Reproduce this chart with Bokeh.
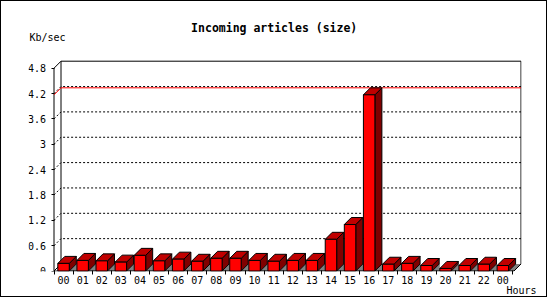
from bokeh.plotting import figure
from bokeh.models import Range1d, FixedTicker, LinearAxis, Label
from bokeh.embed import file_html
from bokeh.resources import INLINE

# ---- data ----
hours = ["00", "01", "02", "03", "04", "05", "06", "07", "08", "09", "10", "11",
         "12", "13", "14", "15", "16", "17", "18", "19", "20", "21", "22", "00"]
kbps = [0.18, 0.25, 0.24, 0.21, 0.37, 0.24, 0.28, 0.23, 0.30, 0.30, 0.25, 0.23,
        0.25, 0.25, 0.75, 1.10, 4.17, 0.16, 0.18, 0.13, 0.06, 0.13, 0.16, 0.13]
y_ticks = [0, 0.6, 1.2, 1.8, 2.4, 3, 3.6, 4.2, 4.8]
y_tick_labels = ["0", "0.6", "1.2", "1.8", "2.4", "3", "3.6", "4.2", "4.8"]
title_text = "Incoming articles (size)"
y_title = "Kb/sec"
x_title = "Hours"

# ---- geometry (page pixels of the reference) ----
PW, PH = 547, 297          # canvas size (plus 1px css border each side)
OFF = 1                    # css border width
X0, Y0 = 53.5, 270.5       # page pixel of data origin
W, S = 19.1, 42.25         # px per category, px per unit
FL, FR, FT, FB = 28, 521, 15, 271   # frame edges in page pixels

def dx_(px):
    return (px - X0) / W
def dy_(py):
    return (Y0 - py) / S

DX, DY = 7.0 / W, 7.0 / S  # 3d depth in data units
A, BW = 0.2, 0.6           # bar offset and width within category
N = len(kbps)
XEND = dx_(513.5)
YTOP = y_ticks[-1]

p = figure(width=PW, height=PH, output_backend="svg", toolbar_location=None,
           title=None,
           x_range=Range1d(dx_(FL), dx_(FR)), y_range=Range1d(dy_(FB), dy_(FT)),
           x_axis_type=None, y_axis_type=None,
           min_border_left=FL - OFF, min_border_right=PW - (FR - OFF),
           min_border_top=FT - OFF, min_border_bottom=PH - (FB - OFF))
p.outline_line_color = None
p.background_fill_color = "white"
p.border_fill_color = "white"
p.styles = {"border": "1px solid black"}

FONT = "DejaVu Sans Mono"

yaxis = LinearAxis(ticker=FixedTicker(ticks=y_ticks), fixed_location=0,
                   axis_line_color=None, major_tick_out=3, major_tick_in=0,
                   major_tick_line_color="black", minor_tick_line_color=None,
                   major_label_standoff=5, major_label_text_font=FONT,
                   major_label_text_font_size="10px", major_label_text_color="black",
                   major_label_overrides={t: l for t, l in zip(y_ticks, y_tick_labels)})
p.add_layout(yaxis, "left")

xaxis = LinearAxis(ticker=FixedTicker(ticks=[i + 0.5 for i in range(N)],
                                      minor_ticks=list(range(N + 1))),
                   axis_line_color=None,
                   major_tick_line_color=None, major_tick_out=0, major_tick_in=0,
                   minor_tick_out=3, minor_tick_in=1, minor_tick_line_color="black",
                   major_label_standoff=1, major_label_text_font=FONT,
                   major_label_text_font_size="10px", major_label_text_color="black",
                   major_label_overrides={i + 0.5: h for i, h in enumerate(hours)},
                   axis_label=x_title, axis_label_align="end",
                   axis_label_standoff=-2, axis_label_text_font=FONT,
                   axis_label_text_font_style="normal",
                   axis_label_text_font_size="10px", axis_label_text_color="black")
p.add_layout(xaxis, "below")

# gray floor pieces
gx, gy = [], []
for i, v in enumerate(kbps):
    x1 = i + A + BW
    if i < N - 1:
        nx = i + 1 + A
        gx.append([x1, nx, nx, x1 + DX])
    else:
        gx.append([x1, XEND, XEND + DX, x1 + DX])
    gy.append([0, 0, DY, DY])
p.patches(gx, gy, fill_color="#808080", line_color=None)

# frame lines
fx = [[0, 0], [0, XEND], [0, DX], [DX, DX], [0, DX], [DX, XEND + DX],
      [XEND + DX, XEND + DX], [XEND, XEND + DX]]
fy = [[0, YTOP], [0, 0], [0, DY], [DY, YTOP + DY], [YTOP, YTOP + DY],
      [YTOP + DY, YTOP + DY], [DY, YTOP + DY], [0, DY]]
p.multi_line(fx, fy, line_color="black", line_width=1)

# dotted gridlines
gl_x, gl_y = [], []
for t in y_ticks[1:-1]:
    gl_x.append([0, DX, XEND + DX])
    gl_y.append([t, t + DY, t + DY])
p.multi_line(gl_x, gl_y, line_color="black", line_width=1, line_dash="2 2")

# max line
m = max(kbps)
p.line([0, DX, XEND + DX], [m, m + DY, m + DY], line_color="red", line_width=1)

# bars
sx, sy, tx, ty, frx, fry = [], [], [], [], [], []
for i, v in enumerate(kbps):
    x0 = i + A
    x1 = x0 + BW
    frx.append([x0, x1, x1, x0]); fry.append([0, 0, v, v])
    tx.append([x0, x1, x1 + DX, x0 + DX]); ty.append([v, v, v + DY, v + DY])
    sx.append([x1, x1 + DX, x1 + DX, x1]); sy.append([0, DY, v + DY, v])
p.patches(sx, sy, fill_color="#800000", line_color="black", line_width=1)
p.patches(tx, ty, fill_color="#c00000", line_color="black", line_width=1)
p.patches(frx, fry, fill_color="#ff0000", line_color="black", line_width=1)

# texts inside the frame
p.add_layout(Label(x=dx_(273.7), y=dy_(27), text=title_text, text_align="center",
                   text_baseline="middle", text_font=FONT, text_font_style="bold",
                   text_font_size="11.5px", text_color="black"))
p.add_layout(Label(x=dx_(29), y=dy_(37), text=y_title, text_align="left",
                   text_baseline="middle", text_font=FONT,
                   text_font_size="10px", text_color="black"))

open("out.html", "w").write(file_html(p, INLINE))
